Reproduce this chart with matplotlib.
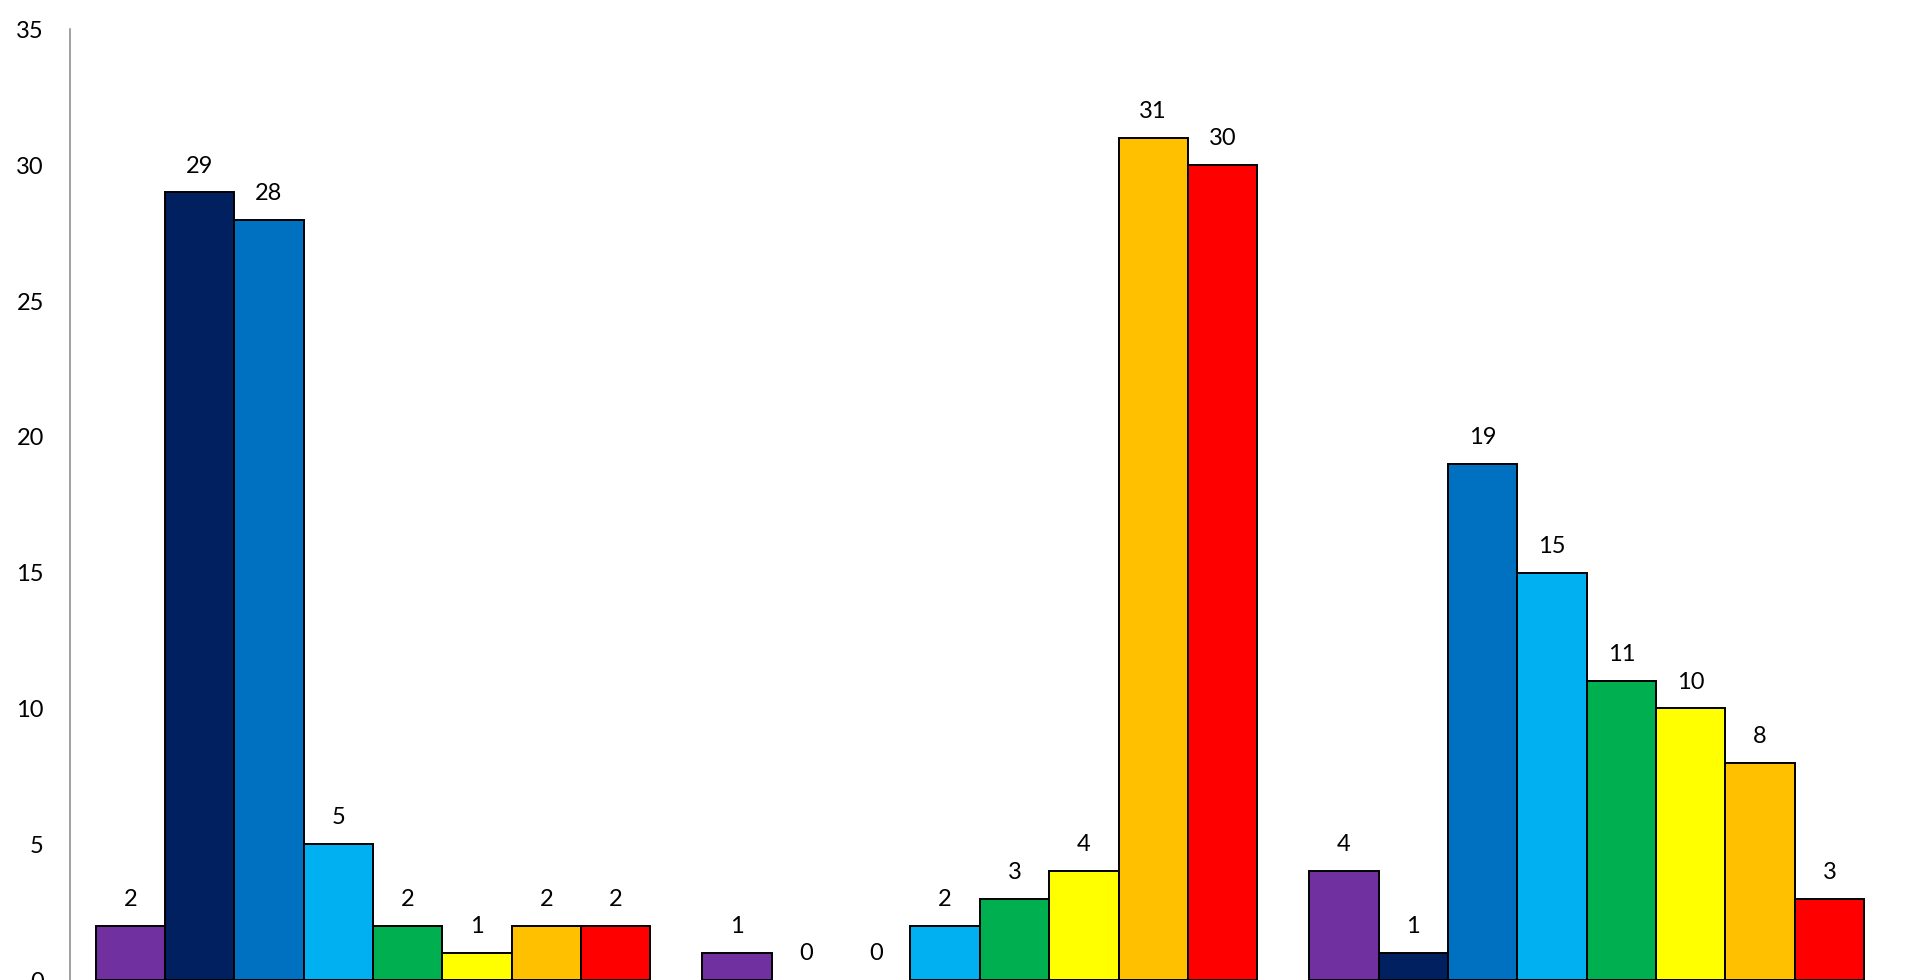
import matplotlib
matplotlib.use("Agg")
import matplotlib.pyplot as plt
import numpy as np

plt.rcParams['font.family'] = ['Lato', 'DejaVu Sans']

# Three groups, eight series each
groups = [0, 1, 2]
series_colors = ["#7030A0", "#002060", "#0070C0", "#00B0F0",
                 "#00B050", "#FFFF00", "#FFC000", "#FF0000"]
s1 = [2, 1, 4]
s2 = [29, 0, 1]
s3 = [28, 0, 19]
s4 = [5, 2, 15]
s5 = [2, 3, 11]
s6 = [1, 4, 10]
s7 = [2, 31, 8]
s8 = [2, 30, 3]
series = [s1, s2, s3, s4, s5, s6, s7, s8]
yticks = [0, 5, 10, 15, 20, 25, 30, 35]

fig = plt.figure(figsize=(19.15, 9.8), dpi=100)
ax = fig.add_axes([0.0363, 0.0, 0.9507, 0.9699])

n = len(series)
width = 1.0 / (n + 0.75)
x = np.array(groups, dtype=float)
for i, (vals, col) in enumerate(zip(series, series_colors)):
    offs = (i - (n - 1) / 2) * width
    # empty bars get no outline
    lws = [1.4 if v > 0 else 0 for v in vals]
    bars = ax.bar(x + offs, vals, width=width, color=col,
                  edgecolor="black", linewidth=lws, zorder=3)
    for b, v in zip(bars, vals):
        ax.annotate(f"{v}", (b.get_x() + b.get_width() / 2, v),
                    xytext=(0, 19), textcoords="offset points",
                    ha="center", va="center", fontsize=17, color="black")

ax.set_xlim(-0.5, 2.5)
ax.set_ylim(0, 35)
ax.set_yticks(yticks)
ax.set_xticks([])
ax.tick_params(axis="y", length=0, pad=18.5, labelsize=17, labelcolor="black")
for side in ("top", "right", "bottom"):
    ax.spines[side].set_visible(False)
ax.spines["left"].set_color("#868686")
ax.spines["left"].set_linewidth(1.1)

fig.savefig("out.png", dpi=100)
